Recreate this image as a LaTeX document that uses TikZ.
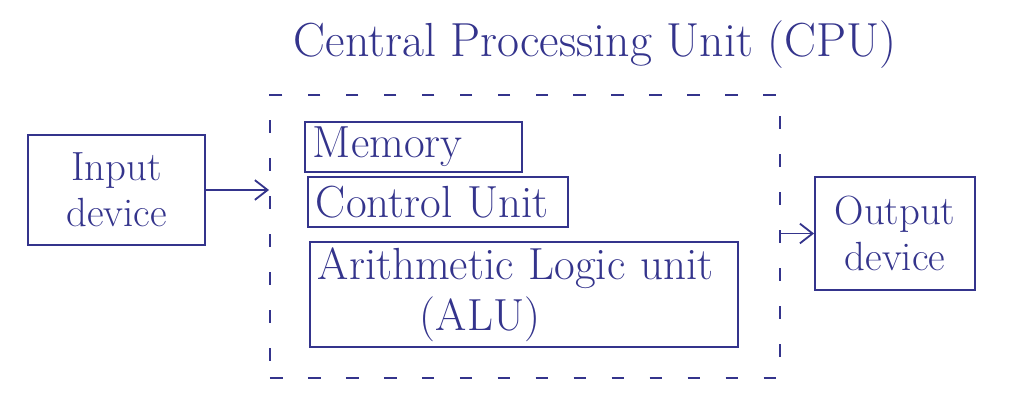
\documentclass[tikz,border=0pt]{standalone}
\usetikzlibrary{arrows.meta}
\definecolor{ink}{RGB}{52,52,140}
\begin{document}
\begin{tikzpicture}[x=0.025cm,y=-0.025cm,
  box/.style={draw=ink, line width=1.3pt, text=ink, inner sep=0pt,
    font=\fontsize{29}{33}\selectfont},
  lbox/.style={box, align=left, inner xsep=0.2cm, font=\fontsize{32}{36}\selectfont},
  frame/.style={draw=ink, line width=1.3pt, dash pattern=on 9pt off 18pt},
  conn/.style={draw=ink, line width=1.3pt, -{Straight Barb[length=9pt,width=14pt]}}]
\useasboundingbox (0,0) rectangle (1029,397);
\node[text=ink, font=\fontsize{34}{38}\selectfont] (title) at (595,45) {Central Processing Unit (CPU)};
\node[frame, minimum width=12.75cm, minimum height=7.075cm] (cpu) at (525,236.5) {};
\node[box, minimum width=4.425cm, minimum height=2.75cm, align=center] (input) at (116.5,190) {Input\\device};
\node[lbox, text width=5.025cm, minimum height=1.25cm] (mem) at (413.5,147) {Memory};
\node[lbox, text width=6.1cm, minimum height=1.25cm] (cu) at (438,202) {Control Unit};
\node[lbox, text width=10.3cm, minimum height=2.625cm] (alu) at (524,294.5) {Arithmetic Logic unit\\\hspace*{2.55cm}(ALU)};
\node[box, minimum width=4cm, minimum height=2.825cm, align=center] (output) at (895,233.5) {Output\\device};
\draw[conn] (input.east) -- (cpu.west |- input.east);
\draw[conn] (cpu.east |- output.west) -- (output.west);
\end{tikzpicture}
\end{document}
